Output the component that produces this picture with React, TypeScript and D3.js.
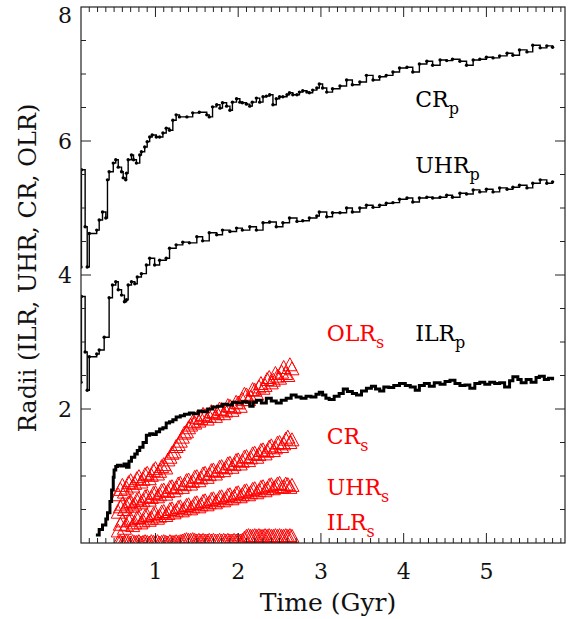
import React from 'react';
import * as d3 from 'd3';

const W = 575;
const H = 619;
const xDomain: [number, number] = [0.1, 5.95];
const yDomain: [number, number] = [0, 8];
const xTickLabels = [1, 2, 3, 4, 5];
const yTickLabels = [2, 4, 6, 8];

// Planet resonances (black): [time Gyr, radius]
const crP: [number, number][] = [
  [0.10,4.12],[0.105,5.57],[0.15,4.72],[0.175,4.12],[0.20,4.62],[0.29,4.67],[0.32,4.82],[0.36,4.94],[0.40,4.85],
  [0.42,5.42],[0.44,5.54],[0.49,5.67],[0.52,5.72],[0.55,5.61],[0.59,5.54],[0.61,5.45],[0.64,5.42],[0.65,5.52],
  [0.67,5.72],[0.71,5.79],[0.735,5.72],[0.77,5.67],[0.81,5.79],[0.83,5.84],[0.87,5.91],[0.90,5.99],[0.93,6.06],
  [0.96,6.09],[1.01,6.06],[1.05,6.06],[1.09,6.12],[1.13,6.19],[1.17,6.16],[1.21,6.31],[1.25,6.39],[1.29,6.36],
  [1.38,6.36],[1.45,6.42],[1.53,6.43],[1.62,6.39],[1.65,6.36],[1.69,6.51],[1.74,6.54],[1.78,6.49],[1.81,6.57],
  [1.86,6.52],[1.90,6.46],[1.93,6.58],[1.98,6.63],[2.02,6.58],[2.05,6.57],[2.10,6.55],[2.14,6.52],[2.17,6.58],
  [2.22,6.64],[2.26,6.58],[2.30,6.66],[2.34,6.67],[2.38,6.69],[2.42,6.54],[2.46,6.63],[2.50,6.66],[2.54,6.66],
  [2.59,6.69],[2.62,6.72],[2.66,6.69],[2.71,6.69],[2.74,6.73],[2.78,6.75],[2.83,6.73],[2.86,6.72],[2.90,6.76],
  [2.95,6.79],[2.98,6.85],[3.02,6.79],[3.07,6.73],[3.14,6.78],[3.23,6.82],[3.31,6.91],[3.38,6.84],[3.47,6.88],
  [3.55,6.98],[3.63,6.91],[3.71,6.96],[3.79,6.98],[3.87,7.03],[3.95,7.09],[4.04,7.10],[4.11,7.03],[4.19,7.15],
  [4.28,7.19],[4.35,7.13],[4.44,7.21],[4.52,7.20],[4.59,7.22],[4.68,7.19],[4.76,7.13],[4.84,7.21],[4.92,7.22],
  [5.00,7.25],[5.08,7.24],[5.16,7.27],[5.25,7.31],[5.32,7.28],[5.40,7.36],[5.49,7.33],[5.56,7.43],[5.65,7.39],
  [5.73,7.42],[5.80,7.40]
];

const uhrP: [number, number][] = [
  [0.10,2.40],[0.105,3.68],[0.15,2.85],[0.175,2.28],[0.20,2.78],[0.29,2.82],[0.32,2.88],[0.38,3.07],[0.44,3.66],
  [0.48,3.85],[0.52,3.90],[0.55,3.78],[0.59,3.70],[0.625,3.60],[0.65,3.63],[0.67,3.85],[0.71,3.90],[0.75,3.87],
  [0.78,3.97],[0.83,4.02],[0.89,4.15],[0.93,4.25],[0.99,4.15],[1.05,4.22],[1.13,4.25],[1.17,4.40],[1.25,4.45],
  [1.33,4.49],[1.41,4.48],[1.50,4.57],[1.57,4.51],[1.65,4.63],[1.74,4.60],[1.81,4.67],[1.90,4.65],[1.98,4.70],
  [2.05,4.67],[2.14,4.72],[2.22,4.67],[2.30,4.78],[2.38,4.79],[2.46,4.72],[2.54,4.78],[2.62,4.85],[2.71,4.80],
  [2.78,4.81],[2.86,4.85],[2.95,4.88],[2.98,4.94],[3.07,4.87],[3.14,4.93],[3.23,4.93],[3.31,5.00],[3.38,4.94],
  [3.47,5.00],[3.55,5.04],[3.63,5.01],[3.71,5.04],[3.79,5.07],[3.87,5.08],[3.95,5.13],[4.04,5.15],[4.11,5.09],
  [4.19,5.15],[4.28,5.16],[4.35,5.15],[4.44,5.16],[4.52,5.19],[4.59,5.16],[4.68,5.22],[4.76,5.21],[4.84,5.27],
  [4.92,5.24],[5.00,5.28],[5.08,5.24],[5.16,5.30],[5.25,5.28],[5.32,5.31],[5.40,5.34],[5.49,5.30],[5.56,5.37],
  [5.65,5.42],[5.73,5.37],[5.80,5.39]
];

const ilrP: [number, number][] = [
  [0.28,0.12],[0.32,0.20],[0.36,0.27],[0.40,0.36],[0.42,0.45],[0.45,0.62],[0.47,0.79],[0.49,0.98],[0.50,1.09],
  [0.52,1.14],[0.54,1.16],[0.58,1.15],[0.62,1.18],[0.65,1.13],[0.68,1.22],[0.71,1.28],[0.75,1.33],[0.78,1.38],
  [0.81,1.43],[0.85,1.50],[0.89,1.61],[0.93,1.63],[0.97,1.62],[1.01,1.66],[1.05,1.70],[1.09,1.72],[1.13,1.79],
  [1.17,1.81],[1.21,1.84],[1.25,1.88],[1.30,1.90],[1.35,1.92],[1.41,1.94],[1.46,1.93],[1.52,1.97],[1.57,1.96],
  [1.63,2.00],[1.69,2.03],[1.75,2.04],[1.81,2.07],[1.87,2.06],[1.93,2.10],[1.99,2.09],[2.05,2.11],[2.10,2.10],
  [2.14,2.04],[2.18,2.10],[2.22,2.13],[2.28,2.09],[2.34,2.16],[2.40,2.12],[2.46,2.09],[2.52,2.13],[2.58,2.16],
  [2.64,2.21],[2.70,2.18],[2.76,2.16],[2.82,2.19],[2.88,2.18],[2.94,2.22],[2.98,2.25],[3.02,2.21],[3.06,2.16],
  [3.10,2.14],[3.16,2.19],[3.22,2.23],[3.27,2.30],[3.32,2.26],[3.38,2.23],[3.43,2.21],[3.49,2.27],[3.55,2.31],
  [3.61,2.34],[3.66,2.30],[3.71,2.27],[3.76,2.33],[3.82,2.32],[3.88,2.35],[3.95,2.38],[4.02,2.35],[4.08,2.33],
  [4.14,2.28],[4.19,2.35],[4.25,2.38],[4.31,2.34],[4.37,2.39],[4.44,2.37],[4.50,2.41],[4.56,2.43],[4.62,2.38],
  [4.68,2.35],[4.74,2.36],[4.80,2.31],[4.86,2.38],[4.92,2.40],[4.98,2.37],[5.04,2.40],[5.10,2.38],[5.16,2.39],
  [5.22,2.33],[5.28,2.42],[5.32,2.48],[5.38,2.44],[5.42,2.39],[5.48,2.44],[5.54,2.40],[5.60,2.47],[5.64,2.49],
  [5.70,2.44],[5.75,2.46],[5.80,2.43]
];

// Satellite resonances (red triangles), sampled every 0.025 Gyr
const tSat = [
  0.550,0.575,0.600,0.625,0.650,0.675,0.700,0.725,0.750,0.775,
  0.800,0.825,0.850,0.875,0.900,0.925,0.950,0.975,1.000,1.025,
  1.050,1.075,1.100,1.125,1.150,1.175,1.200,1.225,1.250,1.275,
  1.300,1.325,1.350,1.375,1.400,1.425,1.450,1.475,1.500,1.525,
  1.550,1.575,1.600,1.625,1.650,1.675,1.700,1.725,1.750,1.775,
  1.800,1.825,1.850,1.875,1.900,1.925,1.950,1.975,2.000,2.025,
  2.050,2.075,2.100,2.125,2.150,2.175,2.200,2.225,2.250,2.275,
  2.300,2.325,2.350,2.375,2.400,2.425,2.450,2.475,2.500,2.525,
  2.550,2.575,2.600,2.625,2.650
];
const olrS = [
  0.72,0.80,0.86,0.76,0.82,0.90,0.93,0.85,0.89,0.96,
  0.99,0.91,0.95,1.02,1.04,0.96,1.01,1.08,1.11,1.03,
  1.07,1.14,1.17,1.12,1.24,1.28,1.34,1.36,1.44,1.47,
  1.52,1.58,1.64,1.66,1.72,1.76,1.81,1.79,1.87,1.82,
  1.86,1.92,1.90,1.85,1.89,1.96,1.95,1.89,1.93,2.00,
  1.99,1.93,1.97,2.05,2.04,1.98,2.02,2.10,2.09,2.04,
  2.14,2.22,2.21,2.14,2.18,2.29,2.28,2.22,2.33,2.38,
  2.31,2.35,2.44,2.47,2.39,2.43,2.53,2.49,2.46,2.55,
  2.62,2.53,2.50,2.66,2.60
];
const crS = [
  0.46,0.54,0.58,0.50,0.55,0.60,0.62,0.55,0.58,0.64,
  0.66,0.60,0.63,0.69,0.70,0.64,0.68,0.74,0.75,0.69,
  0.72,0.78,0.79,0.73,0.77,0.83,0.84,0.78,0.82,0.88,
  0.89,0.83,0.87,0.93,0.94,0.88,0.92,0.98,0.99,0.93,
  0.97,1.03,1.04,0.98,1.02,1.08,1.09,1.03,1.07,1.13,
  1.14,1.08,1.12,1.18,1.19,1.13,1.17,1.23,1.24,1.18,
  1.22,1.28,1.29,1.23,1.27,1.33,1.34,1.28,1.32,1.38,
  1.39,1.33,1.37,1.43,1.45,1.38,1.42,1.49,1.50,1.44,
  1.48,1.55,1.58,1.50,1.54
];
const uhrS = [
  0.18,0.28,0.33,0.22,0.27,0.34,0.36,0.26,0.30,0.37,
  0.38,0.30,0.33,0.40,0.41,0.34,0.37,0.43,0.44,0.37,
  0.40,0.46,0.47,0.41,0.44,0.50,0.51,0.45,0.48,0.53,
  0.54,0.48,0.51,0.56,0.57,0.51,0.54,0.59,0.60,0.54,
  0.57,0.62,0.63,0.57,0.60,0.65,0.66,0.60,0.63,0.68,
  0.69,0.63,0.66,0.71,0.72,0.66,0.69,0.74,0.75,0.69,
  0.72,0.77,0.78,0.72,0.75,0.80,0.81,0.75,0.78,0.83,
  0.84,0.78,0.81,0.86,0.87,0.81,0.84,0.88,0.89,0.83,
  0.84,0.88,0.87,0.83,0.86
];
const ilrS = [
  0.01,0.02,0.00,0.01,0.02,0.01,0.00,0.02,0.01,0.01,
  0.02,0.00,0.01,0.02,0.01,0.00,0.02,0.01,0.01,0.02,
  0.00,0.01,0.02,0.01,0.00,0.02,0.01,0.01,0.02,0.01,
  0.02,0.03,0.04,0.05,0.04,0.04,0.05,0.04,0.03,0.04,
  0.03,0.04,0.03,0.03,0.04,0.03,0.04,0.03,0.03,0.04,
  0.03,0.04,0.03,0.04,0.03,0.03,0.04,0.03,0.04,0.03,
  0.04,0.07,0.10,0.11,0.10,0.10,0.11,0.10,0.11,0.10,
  0.10,0.11,0.10,0.11,0.10,0.10,0.11,0.10,0.11,0.10,
  0.10,0.11,0.10,0.11,0.10
];

const labels = [
  { main: 'CR', sub: 'p', t: 4.14, r: 6.51, color: '#000' },
  { main: 'UHR', sub: 'p', t: 4.14, r: 5.52, color: '#000' },
  { main: 'OLR', sub: 's', t: 3.07, r: 3.01, color: '#ff0000' },
  { main: 'ILR', sub: 'p', t: 4.14, r: 3.01, color: '#000' },
  { main: 'CR', sub: 's', t: 3.07, r: 1.48, color: '#ff0000' },
  { main: 'UHR', sub: 's', t: 3.07, r: 0.72, color: '#ff0000' },
  { main: 'ILR', sub: 's', t: 3.07, r: 0.19, color: '#ff0000' },
];

const FONT = '"DejaVu Serif", serif';

export default function App() {
  const left = 81, right = 565, top = 7, bottom = 543;
  const x = d3.scaleLinear().domain(xDomain).range([left, right]);
  const y = d3.scaleLinear().domain(yDomain).range([bottom, top]);
  const line = d3.line<[number, number]>().x(d => x(d[0])).y(d => y(d[1])).curve(d3.curveStepAfter);

  const xMinor = d3.range(1, 60).map(i => i / 10).filter(v => v > xDomain[0] && v < xDomain[1]);
  const yMinor = d3.range(1, 16).map(i => i / 2);
  const tri = 'M-7,6L0,-7L7,6Z';
  const satSeries = [olrS, crS, uhrS, ilrS];
  const axisColor = '#222';

  return (
    <svg width={W} height={H} style={{ position: 'absolute', left: 0, top: 0, background: '#fff' }} fontFamily={FONT}>
      <defs>
        <clipPath id="plotclip">
          <rect x={left} y={top} width={right - left} height={bottom - top} />
        </clipPath>
      </defs>
      <rect x={0} y={0} width={W} height={H} fill="#fff" />

      <g clipPath="url(#plotclip)">
        {satSeries.map((s, si) => (
          <g key={si}>
            {s.map((v, i) => (
              <path key={i} d={tri} transform={`translate(${x(tSat[i])},${y(v)})`} fill="none" stroke="#ff0000" strokeWidth={1} />
            ))}
          </g>
        ))}
        <path d={line(crP) || ''} fill="none" stroke="#000" strokeWidth={1.4} />
        <path d={line(uhrP) || ''} fill="none" stroke="#000" strokeWidth={1.4} />
        {[crP, uhrP].map((s, si) => (
          <g key={si}>
            {s.map((d, i) => (
              <circle key={i} cx={x(d[0])} cy={y(d[1])} r={1.7} fill="#000" />
            ))}
          </g>
        ))}
        <path d={line(ilrP) || ''} fill="none" stroke="#000" strokeWidth={3} />
      </g>

      {/* frame */}
      <rect x={left} y={top} width={right - left} height={bottom - top} fill="none" stroke={axisColor} strokeWidth={1.2} />

      {/* x ticks bottom & top */}
      {xMinor.map(v => {
        const major = xTickLabels.includes(Math.round(v * 10) / 10);
        const len = major ? 10 : 5;
        return (
          <g key={v}>
            <line x1={x(v)} x2={x(v)} y1={bottom} y2={bottom - len} stroke={axisColor} strokeWidth={1} />
            <line x1={x(v)} x2={x(v)} y1={top} y2={top + len} stroke={axisColor} strokeWidth={1} />
          </g>
        );
      })}
      {/* y ticks left & right */}
      {yMinor.map(v => {
        const major = v % 2 === 0;
        const len = major ? 10 : 5;
        return (
          <g key={v}>
            <line x1={left} x2={left + len} y1={y(v)} y2={y(v)} stroke={axisColor} strokeWidth={1} />
            <line x1={right} x2={right - len} y1={y(v)} y2={y(v)} stroke={axisColor} strokeWidth={1} />
          </g>
        );
      })}

      {/* tick labels */}
      {xTickLabels.map(v => (
        <text key={v} x={x(v)} y={579} textAnchor="middle" fontSize={22} fill="#111">{v}</text>
      ))}
      {yTickLabels.map(v => (
        <text key={v} x={72} y={Math.max(y(v), 15) + 8} textAnchor="end" fontSize={22} fill="#111">{v}</text>
      ))}

      {/* axis titles */}
      <text x={328} y={611} textAnchor="middle" fontSize={25} fill="#111">Time (Gyr)</text>
      <text transform={`translate(36,${268}) rotate(-90)`} textAnchor="middle" fontSize={24} fill="#111">Radii (ILR, UHR, CR, OLR)</text>

      {/* annotations */}
      {labels.map((l, i) => (
        <text key={i} x={x(l.t)} y={y(l.r)} fontSize={22} fill={l.color}>
          {l.main}
          <tspan fontSize={16} dy={7}>{l.sub}</tspan>
        </text>
      ))}
    </svg>
  );
}
